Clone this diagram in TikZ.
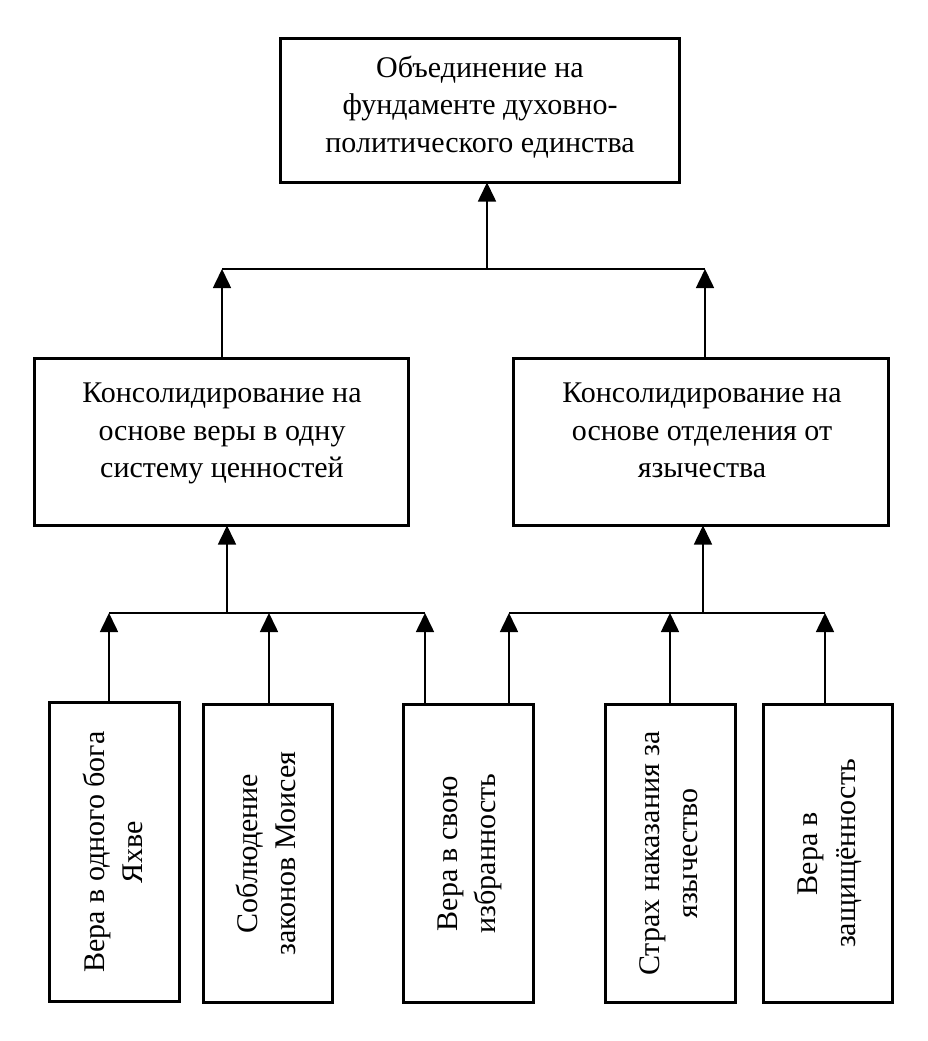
\documentclass[tikz,border=0pt]{standalone}
\usepackage{fontspec}
\setmainfont{Liberation Serif}
\usetikzlibrary{arrows.meta,calc}
\begin{document}
\begin{tikzpicture}[x=1pt,y=-1pt,
  box/.style={draw=black,line width=3pt,rectangle,inner sep=0pt,outer sep=0pt,fill=white},
  txt/.style={align=center,inner sep=0pt,font=\fontsize{30}{37.5}\selectfont},
  rtxt/.style={txt,rotate=90},
  conn/.style={draw=black,line width=1.6pt},
  arr/.style={conn,-{Triangle[length=19pt,width=18pt]}}
]
\useasboundingbox[fill=white] (0,0) rectangle (928,1041);
% boxes
\node[box,minimum width=399pt,minimum height=144pt] (top) at (480,110.5) {};
\node[box,minimum width=374pt,minimum height=167pt] (m1) at (221.5,442) {};
\node[box,minimum width=375pt,minimum height=167pt] (m2) at (701,442) {};
\node[box,minimum width=130pt,minimum height=299pt] (b1) at (114.5,852) {};
\node[box,minimum width=129pt,minimum height=298pt] (b2) at (268,853.5) {};
\node[box,minimum width=130pt,minimum height=298pt] (b3) at (468.5,853.5) {};
\node[box,minimum width=130pt,minimum height=298pt] (b4) at (670.5,853.5) {};
\node[box,minimum width=129pt,minimum height=298pt] (b5) at (828,853.5) {};
% texts
\node[txt] (topt) at (480,107) {\strut Объединение на\\\strut фундаменте духовно-\\\strut политического единства};
\node[txt] (m1t) at (222,432.5) {\strut Консолидирование на\\\strut основе веры в одну\\\strut систему ценностей};
\node[txt] (m2t) at (702,432.5) {\strut Консолидирование на\\\strut основе отделения от\\\strut язычества};
\node[rtxt] (b1t) at (116,852) {\strut Вера в одного бога\\\strut Яхве};
\node[rtxt] (b2t) at (269,853.5) {\strut Соблюдение\\\strut законов Моисея};
\node[rtxt] (b3t) at (469,853.5) {\strut Вера в свою\\\strut избранность};
\node[rtxt] (b4t) at (671,853.5) {\strut Страх наказания за\\\strut язычество};
\node[rtxt] (b5t) at (829,853.5) {\strut Вера в\\\strut защищённость};
% junction coordinates
\coordinate (hL) at (222,269);
\coordinate (hR) at (705,269);
\coordinate (hj) at (487,269);
\coordinate (gL) at (109,613);
\coordinate (g2) at (269,613);
\coordinate (gR) at (425,613);
\coordinate (gj) at (227,613);
\coordinate (rL) at (509,613);
\coordinate (r2) at (670,613);
\coordinate (rR) at (825,613);
\coordinate (rj) at (703,613);
% top level
\draw[conn] (hL) -- (hR);
\draw[arr] (hj) -- (top.south -| hj);
\draw[arr] (m1.north -| hL) -- (hL);
\draw[arr] (m2.north -| hR) -- (hR);
% left group
\draw[conn] (gL) -- (gR);
\draw[arr] (gj) -- (m1.south -| gj);
\draw[arr] (b1.north -| gL) -- (gL);
\draw[arr] (b2.north -| g2) -- (g2);
\draw[arr] (b3.north -| gR) -- (gR);
% right group
\draw[conn] (rL) -- (rR);
\draw[arr] (rj) -- (m2.south -| rj);
\draw[arr] (b3.north -| rL) -- (rL);
\draw[arr] (b4.north -| r2) -- (r2);
\draw[arr] (b5.north -| rR) -- (rR);
\end{tikzpicture}
\end{document}
